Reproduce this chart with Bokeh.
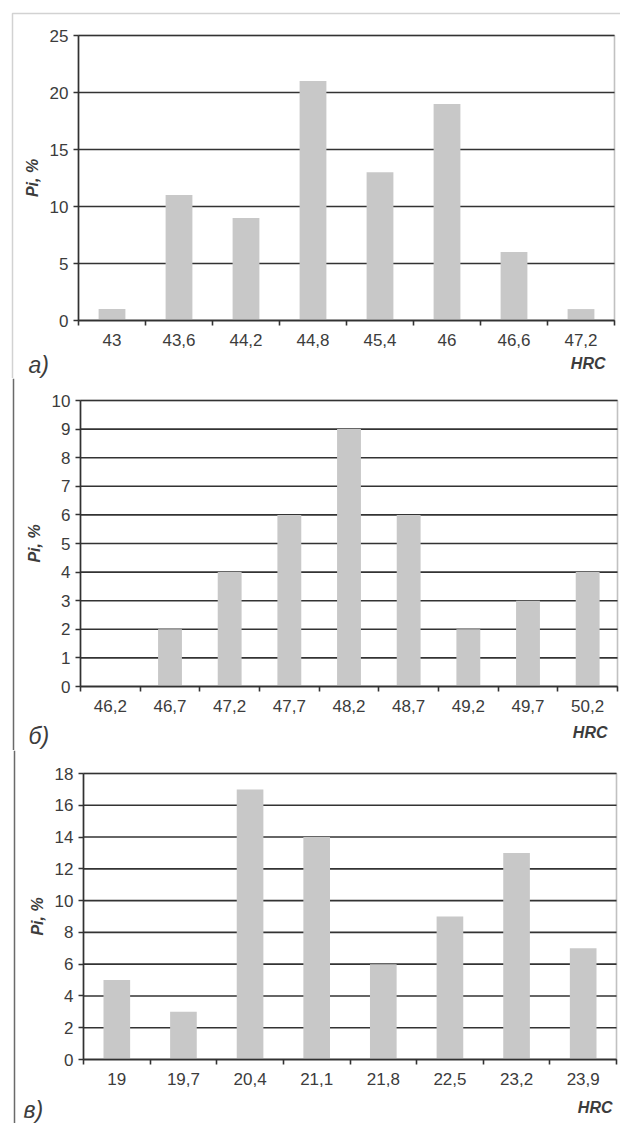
from bokeh.plotting import figure
from bokeh.models import FixedTicker, Label, Range1d, ColumnDataSource, BoxAnnotation, Span
from bokeh.layouts import column
from bokeh.embed import file_html
from bokeh.resources import INLINE

cats_a = ["43", "43,6", "44,2", "44,8", "45,4", "46", "46,6", "47,2"]
vals_a = [1, 11, 9, 21, 13, 19, 6, 1]

cats_b = ["46,2", "46,7", "47,2", "47,7", "48,2", "48,7", "49,2", "49,7", "50,2"]
vals_b = [0, 2, 4, 6, 9, 6, 2, 3, 4]

cats_c = ["19", "19,7", "20,4", "21,1", "21,8", "22,5", "23,2", "23,9"]
vals_c = [5, 3, 17, 14, 6, 9, 13, 7]

FONT = "Liberation Sans"
BAR = "#c8c8c8"
LINE = "#333333"
TXT = "#3c3c3c"
FRAME = "#6a6a6a"
W = 620


def make(cats, vals, ymax, ystep, tag, H, left, right, top, zero,
         tag_dx, tag_dy, hrc_dx, hrc_dy, frame_x, frame_top=None):
    n = len(cats)
    ux = (right - left) / n
    uy = (zero - top) / ymax
    xr = Range1d(-left / ux, n + (W - right) / ux)
    yr = Range1d(-(H - zero) / uy, ymax + top / uy)
    xs = [i + 0.5 for i in range(n)]
    yt = list(range(0, ymax + 1, ystep))

    p = figure(width=W, height=H, output_backend="svg", toolbar_location=None,
               x_range=xr, y_range=yr, min_border=0)
    p.outline_line_color = None
    p.xgrid.visible = False
    p.ygrid.visible = False

    gsrc = ColumnDataSource(dict(x0=[0] * len(yt), x1=[n] * len(yt), y=yt))
    p.segment(x0="x0", x1="x1", y0="y", y1="y", source=gsrc, line_color=LINE, line_width=1.6)

    src = ColumnDataSource(dict(x=xs, top=vals))
    p.vbar(x="x", top="top", width=0.4, source=src, fill_color=BAR, line_color=None)

    p.add_layout(BoxAnnotation(left=0, right=n, bottom=0, top=ymax, fill_alpha=0,
                               line_color=LINE, line_width=1.6))

    # page frame lines (left edge, and top edge for the first panel)
    fx = -(left - frame_x) / ux
    if frame_top is not None:
        fy = ymax + (top - frame_top) / uy
        p.add_layout(BoxAnnotation(left=fx, right=xr.end + 5, top=fy, bottom=yr.start - 5,
                                   fill_alpha=0, line_color=FRAME, line_width=1.5))
    else:
        p.add_layout(Span(location=fx, dimension="height", line_color=FRAME, line_width=1.5))

    xa = p.xaxis[0]
    xa.fixed_location = 0
    xa.bounds = (0, n)
    xa.ticker = FixedTicker(ticks=xs, minor_ticks=list(range(n + 1)))
    xa.major_label_overrides = {x: c for x, c in zip(xs, cats)}
    xa.major_tick_line_alpha = 0
    xa.minor_tick_in = 0
    xa.minor_tick_out = 5
    xa.minor_tick_line_color = LINE
    xa.minor_tick_line_width = 1.6
    xa.axis_line_color = LINE
    xa.axis_line_width = 1.6
    xa.major_label_text_font = FONT
    xa.major_label_text_font_size = "17px"
    xa.major_label_text_color = TXT
    xa.major_label_standoff = 7

    ya = p.yaxis[0]
    ya.fixed_location = 0
    ya.bounds = (0, ymax)
    ya.ticker = FixedTicker(ticks=yt)
    ya.axis_line_color = LINE
    ya.axis_line_width = 1.6
    ya.major_tick_in = 0
    ya.major_tick_out = 5
    ya.major_tick_line_color = LINE
    ya.major_tick_line_width = 1.6
    ya.minor_tick_line_alpha = 0
    ya.major_label_text_font = FONT
    ya.major_label_text_font_size = "17px"
    ya.major_label_text_color = TXT
    ya.major_label_standoff = 5
    ya.axis_label = "Pi, %"
    ya.axis_label_text_font = FONT
    ya.axis_label_text_font_style = "bold italic"
    ya.axis_label_text_font_size = "16px"
    ya.axis_label_text_color = TXT
    ya.axis_label_standoff = 6

    p.add_layout(Label(x=0, y=0, x_offset=tag_dx, y_offset=tag_dy, text=tag,
                       text_font=FONT, text_font_style="italic", text_font_size="23px",
                       text_color=TXT, text_align="left", text_baseline="middle"))
    p.add_layout(Label(x=n, y=0, x_offset=hrc_dx, y_offset=hrc_dy, text="HRC",
                       text_font=FONT, text_font_style="bold italic", text_font_size="16px",
                       text_color=TXT, text_align="right", text_baseline="middle"))
    return p


p1 = make(cats_a, vals_a, 25, 5, "а)", 378, 78, 614, 35, 320, -50, -44, -9, -43, 12, 13)
p2 = make(cats_b, vals_b, 10, 1, "б)", 372, 80, 617, 22, 308, -52, -49, -10, -46, 13)
p3 = make(cats_c, vals_c, 18, 2, "в)", 373, 83, 616, 23, 309, -60, -50, -4, -48, 14)

layout = column(p1, p2, p3, spacing=0)
open("out.html", "w").write(file_html(layout, INLINE))
